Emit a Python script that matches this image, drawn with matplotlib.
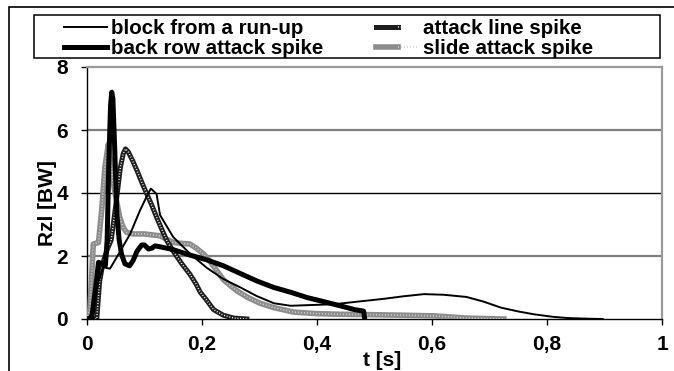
import matplotlib
matplotlib.use("Agg")
import matplotlib.pyplot as plt
from matplotlib.patches import Rectangle
from matplotlib.legend_handler import HandlerTuple

plt.rcParams['font.family'] = ['Liberation Sans', 'DejaVu Sans']

# ---------------- data ----------------
block_t = [0.0, 0.01, 0.02, 0.028, 0.04, 0.055, 0.075, 0.092, 0.104, 0.111, 0.121, 0.127,
           0.15, 0.18, 0.208, 0.237, 0.267, 0.295, 0.325, 0.354, 0.40, 0.43, 0.47, 0.516,
           0.55, 0.586, 0.62, 0.66, 0.69, 0.72, 0.75, 0.777, 0.81, 0.836, 0.87, 0.897]
block_v = [0.0, 0.2, 1.2, 1.64, 1.6, 2.06, 2.7, 3.44, 3.9, 4.14, 3.97, 3.3,
           2.6, 2.06, 1.63, 1.27, 1.0, 0.73, 0.5, 0.42, 0.45, 0.47, 0.55, 0.64,
           0.72, 0.79, 0.77, 0.7, 0.55, 0.36, 0.24, 0.15, 0.07, 0.03, 0.01, 0.0]

attack_t = [0.0, 0.017, 0.022, 0.028, 0.035, 0.042, 0.05, 0.058, 0.063, 0.067, 0.072, 0.08,
            0.087, 0.095, 0.104, 0.113, 0.121, 0.13, 0.139, 0.15, 0.165, 0.179, 0.19, 0.197,
            0.208, 0.22, 0.237, 0.255, 0.278]
attack_v = [0.0, 0.0, 1.2, 1.8, 2.2, 2.5, 3.6, 4.8, 5.25, 5.4, 5.3, 5.0,
            4.71, 4.35, 3.97, 3.6, 3.23, 2.85, 2.48, 2.15, 1.75, 1.42, 1.1, 0.85,
            0.6, 0.3, 0.12, 0.03, 0.0]

back_t = [0.0, 0.008, 0.015, 0.02, 0.027, 0.032, 0.035, 0.038, 0.041, 0.043, 0.045, 0.048,
          0.052, 0.056, 0.06, 0.066, 0.074, 0.08, 0.087, 0.095, 0.1, 0.107, 0.113, 0.118,
          0.125, 0.133, 0.15, 0.179, 0.208, 0.237, 0.266, 0.295, 0.325, 0.354, 0.383, 0.412,
          0.44, 0.465, 0.481, 0.483]
back_v = [0.0, 0.0, 1.0, 1.8, 1.75, 1.7, 2.5, 5.0, 6.8, 7.2, 7.0, 5.5,
          3.3, 2.5, 2.06, 1.75, 1.69, 1.85, 2.15, 2.35, 2.35, 2.22, 2.25, 2.32,
          2.3, 2.27, 2.2, 2.03, 1.88, 1.69, 1.45, 1.21, 1.0, 0.85, 0.68, 0.55,
          0.42, 0.3, 0.25, 0.0]

slide_t = [0.0, 0.005, 0.011, 0.02, 0.026, 0.031, 0.037, 0.041, 0.045, 0.049, 0.057, 0.063,
           0.069, 0.08, 0.1, 0.127, 0.15, 0.165, 0.179, 0.19, 0.203, 0.215, 0.226, 0.237,
           0.25, 0.261, 0.28, 0.301, 0.325, 0.359, 0.4, 0.44, 0.487, 0.55, 0.603, 0.66,
           0.7, 0.725]
slide_v = [0.0, 0.3, 2.38, 2.43, 3.55, 4.8, 5.55, 5.0, 4.4, 3.97, 3.23, 2.9,
           2.75, 2.7, 2.7, 2.64, 2.43, 2.4, 2.38, 2.25, 2.06, 1.8, 1.53, 1.25,
           1.05, 0.89, 0.68, 0.5, 0.36, 0.22, 0.17, 0.15, 0.14, 0.12, 0.1, 0.03,
           0.01, 0.0]

labels = ["block from a run-up", "back row attack spike", "attack line spike", "slide attack spike"]
x_ticks = [0, 0.2, 0.4, 0.6, 0.8, 1.0]
x_ticklabels = ["0", "0,2", "0,4", "0,6", "0,8", "1"]
y_ticks = [0, 2, 4, 6, 8]
y_ticklabels = ["0", "2", "4", "6", "8"]

# ---------------- figure ----------------
W, H = 674, 371
fig = plt.figure(figsize=(W / 100, H / 100), dpi=100)

def fx(px):
    return px / W

def fy(py):
    return 1 - py / H

# outer frame
fig.patches.append(Rectangle((fx(9), fy(400)), fx(700), fy(7) - fy(400), transform=fig.transFigure,
                             fill=False, edgecolor='black', linewidth=1.2))
# legend frame
fig.patches.append(Rectangle((fx(34), fy(58)), fx(660) - fx(34), fy(15) - fy(58),
                             transform=fig.transFigure, fill=False, edgecolor='black',
                             linewidth=1.1, zorder=10))

ax = fig.add_axes([fx(87), fy(319), fx(662) - fx(87), fy(67) - fy(319)])
ax.set_xlim(0, 1)
ax.set_ylim(0, 8)

# gridlines
ax.axhline(2, color='#7f7f7f', lw=1.6, zorder=1)
ax.axhline(4, color='black', lw=1.0, zorder=1)
ax.axhline(6, color='#7f7f7f', lw=1.6, zorder=1)

for s in ['top', 'right']:
    ax.spines[s].set_color('#9a9a9a')
    ax.spines[s].set_linewidth(1.6)
for s in ['left', 'bottom']:
    ax.spines[s].set_color('black')
    ax.spines[s].set_linewidth(1.0)

# series
l1, = ax.plot(block_t, block_v, color='black', lw=1.4, zorder=5)
a_base, = ax.plot(attack_t, attack_v, color='#1e1e1e', lw=3.6, zorder=4)
a_tex, = ax.plot(attack_t, attack_v, color='white', lw=1.1, zorder=4.1,
                 linestyle=(0, (0.6, 1.2)))
l3, = ax.plot(back_t, back_v, color='black', lw=3.6, zorder=6)
s_base, = ax.plot(slide_t, slide_v, color='#8c8c8c', lw=4.0, zorder=3)
s_tex, = ax.plot(slide_t, slide_v, color='#cfcfcf', lw=1.2, zorder=3.1,
                 linestyle=(0, (0.6, 1.2)))

ax.set_xticks(x_ticks)
ax.set_xticklabels(x_ticklabels)
ax.set_yticks(y_ticks)
ax.set_yticklabels(y_ticklabels)
ax.tick_params(axis='both', direction='out', length=4.5, width=1, color='black')
ax.tick_params(axis='x', pad=7)
ax.tick_params(axis='y', pad=9)
for lab in ax.get_xticklabels() + ax.get_yticklabels():
    lab.set_fontweight('bold')
    lab.set_fontsize(15)

fig.text(fx(382), fy(361), "t [s]", ha='center', va='center', fontsize=15, fontweight='bold')
fig.text(fx(47), fy(203), "Rzl [BW]", ha='center', va='center', rotation=90,
         fontsize=15, fontweight='bold')

# legend (frame drawn separately)
handles = [l1, l3, (a_base, a_tex), (s_base, s_tex)]
leg = fig.legend(handles, labels, ncol=2, loc='upper left',
                 bbox_to_anchor=(fx(64), fy(19)), bbox_transform=fig.transFigure,
                 handler_map={tuple: HandlerTuple(ndivide=None, pad=0)},
                 frameon=False, prop={'size': 14.8, 'weight': 'bold'},
                 handlelength=2.1, handletextpad=0.2, borderpad=0,
                 labelspacing=0.05, columnspacing=2.55, borderaxespad=0)

fig.savefig("out.png", dpi=100)
